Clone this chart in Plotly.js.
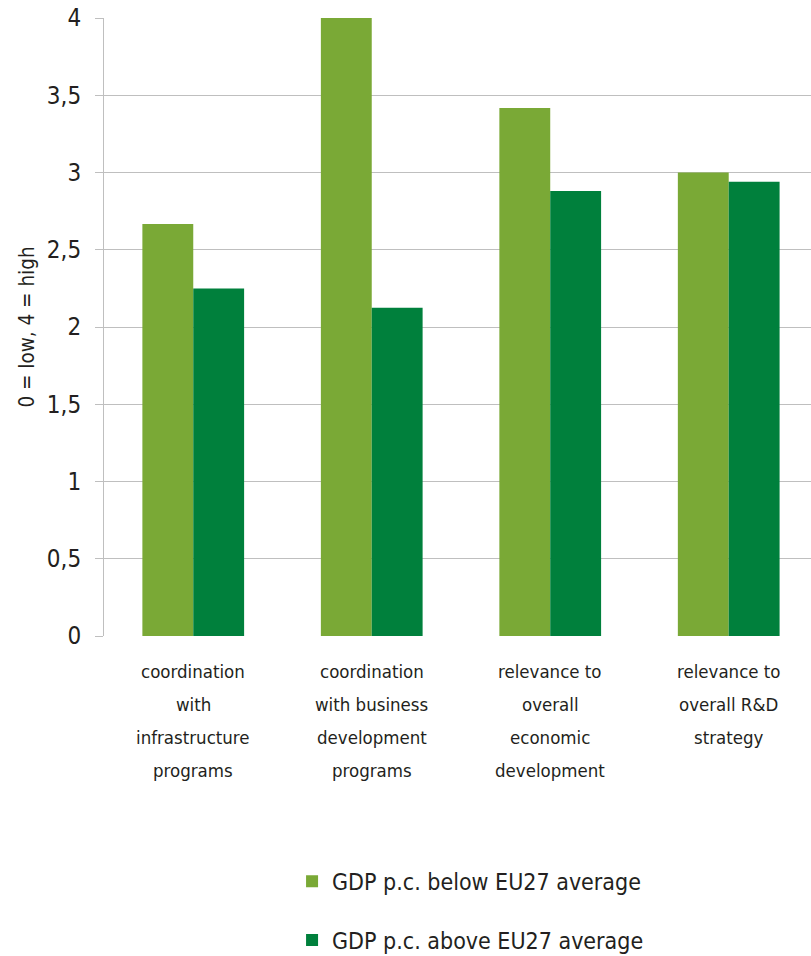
<!DOCTYPE html>
<html>
<head>
<meta charset="utf-8">
<script src="https://cdn.plot.ly/plotly-3.0.1.min.js"></script>
<style>html,body{margin:0;padding:0;background:#fff;}#chart{width:811px;height:956px;}</style>
</head>
<body>
<div id="chart"></div>
<script>
const categories = [
  "coordination<br>with<br>infrastructure<br>programs",
  "coordination<br>with business<br>development<br>programs",
  "relevance to<br>overall<br>economic<br>development",
  "relevance to<br>overall R&D<br>strategy"
];
const seriesNames = ["GDP p.c. below EU27 average", "GDP p.c. above EU27 average"];
const belowValues = [2.667, 4.0, 3.417, 3.0];
const aboveValues = [2.25, 2.125, 2.88, 2.94];
const yTickVals = [0, 0.5, 1, 1.5, 2, 2.5, 3, 3.5, 4];
const yTickText = ["0", "0,5", "1", "1,5", "2", "2,5", "3", "3,5", "4"];

const FONT = "'DejaVu Sans Condensed', 'Liberation Sans Narrow', sans-serif";
const TXT = "#231f20";

const traces = [
  {type: "bar", name: seriesNames[0], x: categories, y: belowValues,
   marker: {color: "#7aa936"}, legendgroup: "a"},
  {type: "bar", name: seriesNames[1], x: categories, y: aboveValues,
   marker: {color: "#00803c"}, legendgroup: "b"}
];

const annotations = [];
categories.forEach(function(c) {
  c.split("<br>").forEach(function(line, i) {
    annotations.push({
      x: c, xref: "x", y: 0, yref: "y", yanchor: "middle", xanchor: "center",
      yshift: -(35 + i * 33), text: line, showarrow: false,
      font: {family: FONT, size: 18.5, color: TXT}
    });
  });
});

const layout = {
  width: 811, height: 956,
  margin: {l: 104, r: 0, t: 18, b: 320, pad: 0, autoexpand: false},
  paper_bgcolor: "#fff", plot_bgcolor: "#fff",
  barmode: "group", bargap: 0.43, bargroupgap: 0,
  font: {family: FONT, color: TXT},
  xaxis: {
    type: "category", range: [-0.5, 3.461], showticklabels: false,
    showgrid: false, zeroline: false, showline: false, ticks: "", fixedrange: true,
    automargin: false
  },
  yaxis: {
    range: [0, 4], tickvals: yTickVals, ticktext: yTickText, automargin: false,
    showgrid: true, gridcolor: "#bfbfbf", gridwidth: 1,
    zeroline: false, showline: true, linecolor: "#bfbfbf", linewidth: 1,
    ticks: "outside", ticklen: 8, tickcolor: "#bfbfbf", ticklabelstandoff: 9,
    tickfont: {family: FONT, size: 24, color: TXT},
    title: {text: "0 = low, 4 = high", font: {family: FONT, size: 20.5, color: TXT}, standoff: 6}
  },
  showlegend: true,
  legend: {
    x: 0.266, xanchor: "left", y: -0.362, yanchor: "top",
    orientation: "v", traceorder: "grouped", tracegroupgap: 26,
    font: {family: FONT, size: 23, color: TXT}, bgcolor: "rgba(0,0,0,0)"
  },
  annotations: annotations
};

Plotly.newPlot("chart", traces, layout, {displayModeBar: false, staticPlot: true});
</script>
</body>
</html>
